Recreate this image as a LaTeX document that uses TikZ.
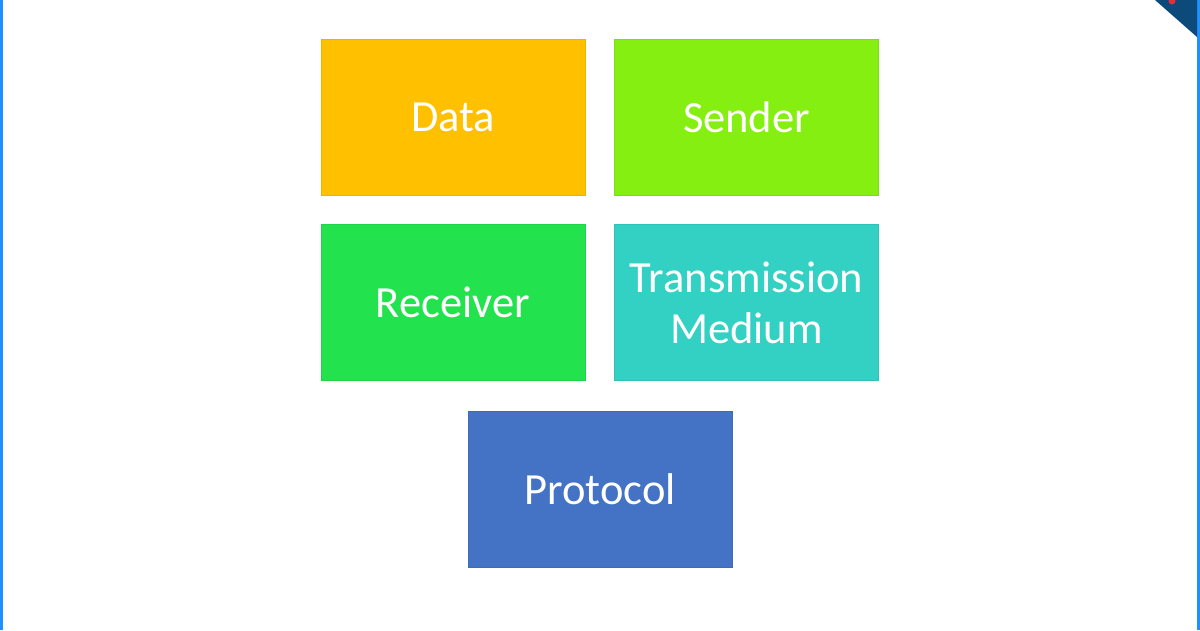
\documentclass[tikz,border=0pt]{standalone}
\usepackage{fontspec}
\setmainfont{Carlito}
\definecolor{cData}{HTML}{FFC000}
\definecolor{cSender}{HTML}{86EF12}
\definecolor{cRecv}{HTML}{22E34E}
\definecolor{cTrans}{HTML}{33D1C4}
\definecolor{cProt}{HTML}{4472C4}
\definecolor{cEdge}{HTML}{1E90FF}
\definecolor{cCorner}{HTML}{0B4A7A}
\definecolor{cDot}{HTML}{E0303A}
\begin{document}
\begin{tikzpicture}[x=1pt,y=-1pt,
  blockbox/.style={draw=#1!93!black, line width=0.5pt, fill=#1, minimum width=264pt, minimum height=156pt,
    inner sep=0pt, text=white, align=center, font=\fontsize{44.5}{51}\selectfont}]
\useasboundingbox (0,0) rectangle (1200,630);
\fill[white] (0,0) rectangle (1200,630);
\fill[cEdge] (0,0) rectangle (2.5,630);
\fill[cEdge] (1196.5,0) rectangle (1200,630);
\fill[cCorner] (1155,0) -- (1197,0) -- (1197,37) -- cycle;
\begin{scope}
\clip (1155,0) -- (1197,0) -- (1197,37) -- cycle;
\fill[cDot] (1172,1) circle (3.5);
\end{scope}
\node[blockbox=cData] (data) at (453,117) {Data};
\node[blockbox=cSender] (sender) at (746.5,117) {Sender};
\node[blockbox=cRecv] (receiver) at (453,302.5) {Receiver};
\node[blockbox=cTrans] (medium) at (746.5,302.5) {Transmission\\Medium};
\node[blockbox=cProt] (protocol) at (600,489.5) {Protocol};
\end{tikzpicture}
\end{document}
